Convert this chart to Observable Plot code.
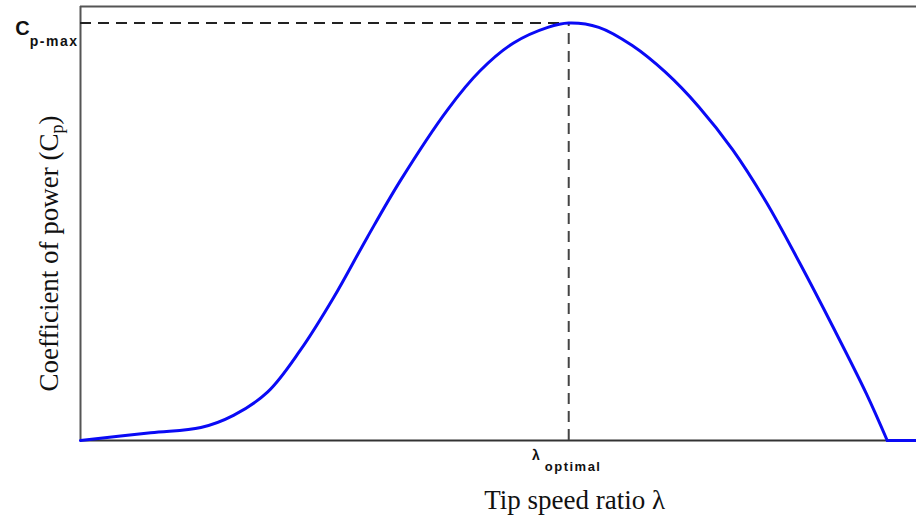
<!DOCTYPE html>
<html>
<head>
<meta charset="utf-8">
<script src="https://cdn.jsdelivr.net/npm/d3@7"></script>
<script src="https://cdn.jsdelivr.net/npm/@observablehq/plot@0.6"></script>
<style>
  html, body { margin: 0; padding: 0; background: #fff; }
  #chart svg { display: block; }
</style>
</head>
<body>
<div id="chart"></div>
<script>
// Tip speed ratio (arbitrary units, no ticks in the original)
const lambda = [0, 0.84, 1.44, 1.83, 2.24, 2.63, 3.03, 3.43, 3.83, 4.39, 4.78, 5.18, 5.59, 5.84, 6.2, 6.6, 7.0, 7.4, 7.8, 8.2, 8.6, 9.0, 9.4, 9.65, 10];
// Coefficient of power
const cp = [0, 0.009, 0.015, 0.029, 0.056, 0.104, 0.165, 0.234, 0.300, 0.381, 0.426, 0.458, 0.476, 0.481, 0.476, 0.455, 0.424, 0.384, 0.335, 0.275, 0.205, 0.131, 0.054, 0, 0];

const lambdaOptimal = 5.84;
const cpMax = 0.481;
const lambdaCutOut = 9.65;
const xDomain = [0, 10];
const yDomain = [0, 0.5];

const cpMaxLabel = ["C", "p-max"];
const lambdaOptLabel = ["λ", "optimal"];
const xTitle = "Tip speed ratio λ";
const yTitle = ["Coefficient of power (C", "p", ")"];

const curve = lambda.map((l, i) => ({lambda: l, cp: cp[i]}));
const rising = curve.filter(d => d.lambda <= lambdaCutOut);
const tail = curve.filter(d => d.lambda >= lambdaCutOut);

const serif = "'Liberation Serif', 'Times New Roman', serif";
const sans = "'Liberation Sans', Arial, Helvetica, sans-serif";

const chart = Plot.plot({
  width: 916,
  height: 523,
  marginLeft: 80,
  marginRight: 0,
  marginTop: 6,
  marginBottom: 83,
  style: {background: "#fff", overflow: "visible"},
  x: {domain: xDomain, axis: null},
  y: {domain: yDomain, axis: null},
  marks: [
    // frame: top, bottom, left
    Plot.ruleY([yDomain[1]], {x1: xDomain[0], x2: xDomain[1], stroke: "#555", strokeWidth: 2}),
    Plot.ruleY([0], {x1: xDomain[0], x2: xDomain[1], stroke: "#333", strokeWidth: 2}),
    Plot.ruleX([0], {y1: yDomain[0], y2: yDomain[1], stroke: "#555", strokeWidth: 2}),
    // guides
    Plot.ruleY([cpMax], {x1: 0, x2: lambdaOptimal, stroke: "#222", strokeWidth: 2, strokeDasharray: "11,7"}),
    Plot.ruleX([lambdaOptimal], {y1: 0, y2: cpMax, stroke: "#444", strokeWidth: 2, strokeDasharray: "11,7"}),
    // Cp curve
    Plot.line(rising, {x: "lambda", y: "cp", stroke: "#0a0af5", strokeWidth: 3, curve: "catmull-rom"}),
    Plot.line(tail, {x: "lambda", y: "cp", stroke: "#0a0af5", strokeWidth: 3}),
    // labels
    Plot.text([{x: 0, y: cpMax, t: cpMaxLabel[0]}], {x: "x", y: "y", text: "t", textAnchor: "end", lineAnchor: "bottom", dx: -2, dy: 12, fontFamily: sans, fontWeight: "bold", fontSize: 20, fill: "#111"}),
    Plot.text([{x: lambdaOptimal, y: 0, t: lambdaOptLabel[0]}], {x: "x", y: "y", text: "t", textAnchor: "middle", lineAnchor: "bottom", dx: -2, dy: 19, fontFamily: sans, fontWeight: "bold", fontSize: 14, fill: "#111"}),
    Plot.text([{x: lambdaOptimal, y: 0, t: xTitle}], {x: "x", y: "y", text: "t", textAnchor: "middle", lineAnchor: "bottom", dx: 6, dy: 68, fontFamily: serif, fontSize: 27, fill: "#111"}),
    Plot.text([{t: yTitle[0]}], {frameAnchor: "left", text: "t", rotate: -90, textAnchor: "middle", lineAnchor: "bottom", dx: -23, dy: 30, fontFamily: serif, fontSize: 27, fill: "#111"})
  ]
});

document.getElementById("chart").appendChild(chart);

// add subscripts as tspans
d3.select(chart).selectAll("text").each(function () {
  const t = d3.select(this);
  const s = t.text();
  if (s === cpMaxLabel[0]) {
    t.append("tspan").attr("dy", 11).attr("font-size", 14).attr("letter-spacing", 1.5).text(cpMaxLabel[1]);
  } else if (s === lambdaOptLabel[0]) {
    t.append("tspan").attr("dx", 5).attr("dy", 11).attr("font-size", 13).attr("letter-spacing", 1.5).text(lambdaOptLabel[1]);
  } else if (s === yTitle[0]) {
    t.append("tspan").attr("dy", 5).attr("font-size", 18).text(yTitle[1]);
    t.append("tspan").attr("dy", -5).text(yTitle[2]);
  }
});
</script>
</body>
</html>
